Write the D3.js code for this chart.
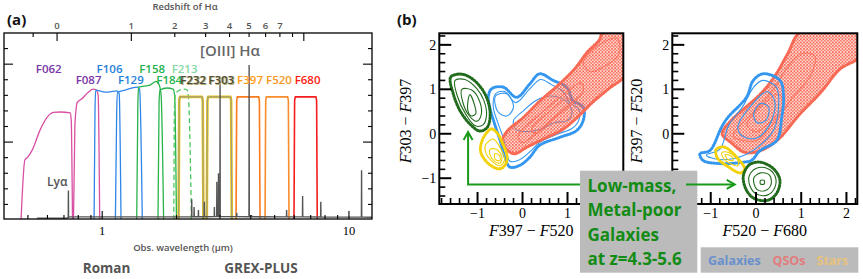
<!DOCTYPE html>
<html>
<head>
<meta charset="utf-8">
<script src="https://cdn.jsdelivr.net/npm/d3@7"></script>
<style>
body { margin: 0; background: #fff; }
svg { display: block; }
</style>
</head>
<body>
<svg id="fig" width="863" height="279"></svg>
<script>
// ---------- panel (a) data ----------
// Roman filter curves [wavelength um, transmission]
const romanNames = ["F062", "F087", "F106", "F129", "F158", "F184", "F213"];
const f062 = [[0.469,0],[0.486,0.385],[0.497,0.40],[0.521,0.45],[0.561,0.58],[0.599,0.66],[0.633,0.69],[0.676,0.693],[0.742,0.687],[0.749,0.64],[0.758,0]];
const f087 = [[0.765,0],[0.775,0.6],[0.785,0.72],[0.79,0.75],[0.83,0.78],[0.878,0.82],[0.92,0.84],[0.946,0.834],[0.963,0.80],[0.977,0]];
const f106 = [[0.927,0],[0.935,0.7],[0.941,0.834],[1.028,0.82],[1.15,0.828],[1.172,0.81],[1.192,0]];
const f129 = [[1.131,0],[1.145,0.7],[1.155,0.82],[1.239,0.834],[1.386,0.853],[1.418,0.84],[1.454,0]];
const f158 = [[1.38,0],[1.395,0.75],[1.405,0.853],[1.564,0.866],[1.654,0.889],[1.702,0.866],[1.733,0.80],[1.774,0]];
const f184 = [[1.683,0],[1.70,0.75],[1.714,0.834],[1.834,0.847],[1.939,0.84],[1.966,0.80],[2.0,0]];
const f213 = [[1.95,0],[1.962,0.7],[1.975,0.80],[2.031,0.828],[2.148,0.84],[2.209,0.834],[2.24,0.77],[2.3,0]];
const romanCurves = [f062, f087, f106, f129, f158, f184, f213];

// GREX-PLUS box filters
const grexNames = ["F232", "F303", "F397", "F520", "F680"];
const grexLo = [2.04, 2.654, 3.487, 4.571, 5.987];
const grexHi = [2.571, 3.351, 4.362, 5.716, 7.44];
const grexTop = 0.79;

// model spectrum of a z=5 galaxy
const contWave = [0.544, 0.72, 0.735, 2.0, 3.0, 12.4];
const contFlux = [0.012, 0.012, 0.02, 0.02, 0.022, 0.018];
const lineWave = [0.7296, 2.306, 2.358, 2.455, 2.595, 2.849, 2.915, 2.960, 3.004, 3.51, 3.94, 4.03, 5.59, 6.49, 7.69, 11.25];
const lineFlux = [0.19, 0.133, 0.083, 0.064, 0.117, 0.083, 0.246, 0.30, 0.873, 0.045, 0.995, 0.032, 0.064, 0.154, 0.117, 0.32];

const haRest = 0.65628;
const zLabels = [0, 1, 2, 3, 4, 5, 6, 7];
const zTicksLong = [0, 1, 9];
const zTicksShort = [-0.2, 2, 3, 4, 5, 6, 7, 8];

// ---------- panel (b) data: contour rings, outer first ----------
const blueL = [
  [[-0.69,1.01],[-0.43,1.05],[-0.13,0.82],[0.16,1.12],[0.38,1.35],[0.68,1.20],[0.98,1.05],[1.12,0.75],[1.35,0.60],[1.35,0.30],[1.20,0.07],[0.83,-0.08],[0.38,-0.26],[0.16,-0.53],[-0.06,-0.71],[-0.28,-0.75],[-0.39,-0.53],[-0.50,-0.15],[-0.62,0.22],[-0.73,0.60],[-0.76,0.82]],
  [[-0.6,0.9],[-0.4,0.95],[-0.15,0.7],[0.15,1.0],[0.4,1.22],[0.65,1.1],[0.9,0.95],[1.05,0.7],[1.25,0.55],[1.25,0.3],[1.1,0.12],[0.8,0.0],[0.4,-0.18],[0.15,-0.42],[-0.1,-0.6],[-0.28,-0.62],[-0.35,-0.45],[-0.42,-0.12],[-0.55,0.25],[-0.65,0.6]],
  [[0.0,0.5],[0.3,0.75],[0.6,0.85],[0.95,0.75],[1.1,0.5],[1.0,0.3],[0.7,0.25],[0.4,0.1],[0.1,0.05],[-0.15,0.1],[-0.2,0.3]],
  [[-0.6,0.85],[-0.35,0.9],[-0.2,0.6],[-0.35,0.4],[-0.55,0.5]]
];
const qsoL = [
  [[-0.45,-0.2],[-0.35,0.05],[0.0,0.35],[0.4,0.75],[0.8,1.1],[1.15,1.45],[1.45,1.85],[1.7,2.1],[1.8,2.3],[2.3,2.3],[2.3,1.35],[1.9,1.0],[1.55,0.7],[1.25,0.4],[0.9,0.1],[0.5,-0.1],[0.1,-0.3],[-0.2,-0.45]],
  [[-0.1,-0.05],[0.4,0.45],[1.0,0.95],[1.3,1.15],[1.35,0.95],[0.9,0.55],[0.4,0.1],[0.0,-0.2]],
  [[0.2,0.1],[0.6,0.5],[1.0,0.8],[1.1,0.7],[0.7,0.35],[0.3,0.0]],
  [[1.35,1.6],[1.7,2.0],[2.1,2.15],[2.15,1.8],[1.8,1.5],[1.5,1.4]]
];
const yellowL = [
  [[-0.91,-0.19],[-0.80,0.02],[-0.69,0.11],[-0.55,0.0],[-0.45,-0.2],[-0.34,-0.53],[-0.40,-0.72],[-0.52,-0.79],[-0.76,-0.67],[-0.93,-0.41]],
  [[-0.82,-0.25],[-0.65,-0.12],[-0.48,-0.35],[-0.40,-0.58],[-0.50,-0.72],[-0.70,-0.60],[-0.82,-0.42]],
  [[-0.72,-0.35],[-0.58,-0.35],[-0.46,-0.52],[-0.50,-0.66],[-0.62,-0.62],[-0.72,-0.48]],
  [[-0.62,-0.45],[-0.52,-0.48],[-0.50,-0.60],[-0.60,-0.58]]
];
const greenL = [
  [[-1.60,1.27],[-1.44,1.34],[-1.24,1.31],[-0.99,1.12],[-0.80,0.82],[-0.72,0.45],[-0.78,0.15],[-0.95,0.06],[-1.17,0.22],[-1.39,0.52],[-1.54,0.90]],
  [[-1.50,1.20],[-1.28,1.22],[-1.02,1.02],[-0.86,0.75],[-0.80,0.42],[-0.88,0.20],[-1.05,0.18],[-1.25,0.42],[-1.45,0.85]],
  [[-1.35,1.0],[-1.12,0.98],[-0.95,0.72],[-0.92,0.42],[-1.02,0.28],[-1.18,0.40],[-1.33,0.72]],
  [[-1.17,0.88],[-1.06,0.62],[-1.04,0.45],[-1.14,0.40],[-1.22,0.55]]
];

const blueR = [
  [[-1.24,-0.45],[-1.02,-0.38],[-0.76,0.15],[-0.62,0.37],[-0.21,0.82],[-0.06,1.2],[0.16,1.35],[0.53,1.2],[0.61,0.82],[0.57,0.37],[0.46,-0.15],[0.09,-0.38],[-0.10,-0.60],[-0.28,-0.64],[-0.8,-0.67],[-1.17,-0.6]],
  [[-1.1,-0.48],[-0.8,-0.35],[-0.6,0.2],[-0.3,0.6],[-0.05,1.05],[0.15,1.2],[0.45,1.05],[0.5,0.6],[0.4,0.1],[0.1,-0.25],[-0.3,-0.5],[-0.8,-0.58]],
  [[-0.4,0.15],[-0.05,0.7],[0.25,0.95],[0.42,0.7],[0.3,0.2],[0.0,-0.1],[-0.3,-0.05]],
  [[-0.05,0.45],[0.1,0.68],[0.28,0.6],[0.22,0.3],[0.02,0.25]]
];
const qsoR = [
  [[-0.75,0.0],[-0.55,0.3],[-0.2,0.62],[0.15,0.95],[0.45,1.35],[0.7,1.8],[1.0,2.3],[2.3,2.3],[2.3,1.75],[1.85,1.45],[1.45,0.95],[0.95,0.42],[0.5,-0.12],[0.1,-0.38],[-0.25,-0.42],[-0.55,-0.2]],
  [[-0.5,-0.05],[-0.1,0.45],[0.35,0.95],[0.7,1.5],[1.0,1.8],[1.3,1.75],[1.2,1.3],[0.8,0.8],[0.4,0.25],[0.0,-0.15]],
  [[-0.2,0.2],[0.2,0.7],[0.5,0.9],[0.6,0.65],[0.3,0.25],[0.0,0.05]]
];
const yellowR = [
  [[-0.88,-0.35],[-0.7,-0.3],[-0.45,-0.5],[-0.25,-0.8],[-0.35,-0.88],[-0.6,-0.75],[-0.85,-0.55]],
  [[-0.75,-0.42],[-0.6,-0.42],[-0.4,-0.6],[-0.4,-0.72],[-0.55,-0.68],[-0.72,-0.55]],
  [[-0.68,-0.47],[-0.55,-0.5],[-0.5,-0.6],[-0.62,-0.58]]
];
const greenR = [
  [[-0.28,-0.95],[-0.15,-0.7],[0.1,-0.64],[0.4,-0.8],[0.53,-1.05],[0.45,-1.35],[0.25,-1.5],[-0.05,-1.45],[-0.22,-1.25]],
  [[-0.15,-0.95],[0.0,-0.78],[0.25,-0.78],[0.42,-0.95],[0.42,-1.2],[0.25,-1.38],[0.0,-1.35],[-0.13,-1.18]],
  [[-0.05,-1.0],[0.1,-0.88],[0.3,-0.93],[0.33,-1.15],[0.2,-1.28],[0.02,-1.25]],
  [[0.1,-1.05],[0.18,-1.05],[0.18,-1.13],[0.1,-1.13]]
];

const arrowTipL = [-1.21, 0.04];
const arrowTipR = [-0.47, -1.14];
const boxLines = ["Low-mass,", "Metal-poor", "Galaxies", "at z=4.3-5.6"];
const legendNames = ["Galaxies", "QSOs", "Stars"];

// ---------- drawing ----------
const svg = d3.select("#fig");
const sans = "'Open Sans', 'Noto Sans', sans-serif";
const serif = "'Liberation Serif', 'DejaVu Serif', serif";
const defs = svg.append("defs");

// ===== panel (a) =====
const x = d3.scaleLog().domain([0.4, 12.4]).range([4, 372]);
const y = d3.scaleLinear().domain([0, 1.2]).range([220, 33]);
const pa = { l: 4, r: 372, t: 33, b: 219 };

defs.append("clipPath").attr("id", "clipA")
  .append("rect").attr("x", pa.l).attr("y", pa.t).attr("width", pa.r - pa.l).attr("height", pa.b - pa.t);

const ga = svg.append("g");
const plotA = ga.append("g").attr("clip-path", "url(#clipA)");

const romanColors = ["#d94fa3", "#d94fa3", "#2f86e8", "#2f86e8", "#2ab34a", "#2ab34a", "#4cc85a"];
const romanLabelColors = ["#7a35a8", "#7a35a8", "#1f82d8", "#1f82d8", "#22b04a", "#22b04a", "#86d9a4"];
const upperRow = ["F062", "F106", "F158", "F213"];

const curve = d3.line().x(d => x(d[0])).y(d => y(d[1])).curve(d3.curveMonotoneX);

romanCurves.forEach((c, i) => {
  plotA.append("path")
    .attr("d", curve(c))
    .attr("fill", "none")
    .attr("stroke", romanColors[i])
    .attr("stroke-width", 1.3)
    .attr("stroke-dasharray", romanNames[i] == "F213" ? "5,3" : null);
});

// GREX box filters
const grexColors = ["#e8c412", "#b8b08a", "#fb7a1c", "#f98c2c", "#f41c1c"];
const boxLine = d3.line().x(d => x(d[0])).y(d => y(d[1])).curve(d3.curveLinear);
grexNames.forEach((n, i) => {
  const lo = grexLo[i], hi = grexHi[i];
  const pts = [[lo, 0], [lo * 1.006, grexTop * 0.97], [lo * 1.012, grexTop], [hi / 1.012, grexTop], [hi / 1.006, grexTop * 0.97], [hi, 0]];
  if (i < 2) {
    plotA.append("path").attr("d", boxLine(pts)).attr("fill", "none")
      .attr("stroke", "#e8c412").attr("stroke-width", 2.6).attr("stroke-linejoin", "round");
    plotA.append("path").attr("d", boxLine(pts)).attr("fill", "none")
      .attr("stroke", "#a09c84").attr("stroke-width", 1.1).attr("stroke-linejoin", "round");
  } else {
    plotA.append("path").attr("d", boxLine(pts)).attr("fill", "none")
      .attr("stroke", grexColors[i]).attr("stroke-width", 1.6).attr("stroke-linejoin", "round");
  }
});

// spectrum: continuum + emission spikes
const contAt = d3.scaleLog().domain(contWave).range(contFlux).clamp(true);
let spec = contWave.map((w, i) => [w, contFlux[i]]);
lineWave.forEach((w, i) => {
  const c = contAt(w);
  spec.push([w / 1.0015, c], [w, lineFlux[i]], [w * 1.0015, c]);
});
spec.sort((a, b) => a[0] - b[0]);
plotA.append("path")
  .attr("d", d3.line().x(d => x(d[0])).y(d => y(d[1]))(spec))
  .attr("fill", "none")
  .attr("stroke", "#555")
  .attr("stroke-width", 1.4);

// frame
ga.append("rect").attr("x", pa.l).attr("y", pa.t).attr("width", pa.r - pa.l).attr("height", pa.b - pa.t)
  .attr("fill", "none").attr("stroke", "#000").attr("stroke-width", 1.3);

// left/right ticks
d3.range(1, 12).forEach(k => {
  const v = k / 10, yy = y(v);
  if (yy < pa.t + 1) return;
  const len = (k % 5 == 0) ? 9 : 4;
  ga.append("line").attr("x1", pa.l).attr("x2", pa.l + len).attr("y1", yy).attr("y2", yy).attr("stroke", "#000").attr("stroke-width", 1.1);
  ga.append("line").attr("x1", pa.r).attr("x2", pa.r - len).attr("y1", yy).attr("y2", yy).attr("stroke", "#000").attr("stroke-width", 1.1);
});

// bottom wavelength ticks
const minorW = [0.5, 0.6, 0.7, 0.8, 0.9, 2, 3, 4, 5, 6, 7, 8, 9];
minorW.forEach(w => {
  ga.append("line").attr("x1", x(w)).attr("x2", x(w)).attr("y1", pa.b).attr("y2", pa.b - 4).attr("stroke", "#000").attr("stroke-width", 1.1);
});
[1, 10].forEach(w => {
  ga.append("line").attr("x1", x(w)).attr("x2", x(w)).attr("y1", pa.b).attr("y2", pa.b - 8).attr("stroke", "#000").attr("stroke-width", 1.1);
  ga.append("text").attr("x", x(w)).attr("y", 235).attr("text-anchor", "middle")
    .attr("font-family", serif).attr("font-size", 12.5).attr("fill", "#000").text(w);
});

// top redshift axis
const zx = z => x(haRest * (1 + z));
zTicksLong.forEach(z => {
  ga.append("line").attr("x1", zx(z)).attr("x2", zx(z)).attr("y1", pa.t).attr("y2", pa.t + 8).attr("stroke", "#000").attr("stroke-width", 1.1);
});
zTicksShort.forEach(z => {
  ga.append("line").attr("x1", zx(z)).attr("x2", zx(z)).attr("y1", pa.t).attr("y2", pa.t + 4).attr("stroke", "#000").attr("stroke-width", 1.1);
});
zLabels.forEach(z => {
  ga.append("text").attr("x", zx(z)).attr("y", 28.5).attr("text-anchor", "middle")
    .attr("font-family", sans).attr("font-weight", 600).attr("font-size", 9.5).attr("fill", "#555").text(z);
});
ga.append("text").attr("x", 185).attr("y", 9.5).attr("text-anchor", "middle")
  .attr("font-family", sans).attr("font-weight", 600).attr("font-size", 9.5).attr("fill", "#555").text("Redshift of Hα");

// filter labels
const allNames = romanNames.concat(grexNames);
const allCenters = romanCurves.map(c => Math.sqrt(c[0][0] * c[c.length - 1][0]))
  .concat(grexLo.map((lo, i) => Math.sqrt(lo * grexHi[i])));
const grexLabelColors = ["#4c4c3a", "#4c4c3a", "#ff9a14", "#f7961e", "#ff1a10"];
const allLabelColors = romanLabelColors.concat(grexLabelColors);
allNames.forEach((n, i) => {
  const lx = x(allCenters[i]) + 2;
  const ly = upperRow.includes(n) ? 72.5 : 84;
  if (n == "F232" || n == "F303") {
    ga.append("text").attr("x", lx + 0.8).attr("y", ly + 0.6).attr("text-anchor", "middle")
      .attr("font-family", sans).attr("font-weight", 700).attr("font-size", 11.5).attr("fill", "#b4ac70").text(n);
  }
  ga.append("text").attr("x", lx).attr("y", ly).attr("text-anchor", "middle")
    .attr("font-family", sans).attr("font-weight", 600).attr("font-size", 11.5).attr("fill", allLabelColors[i]).text(n);
});

ga.append("text").attr("x", 230).attr("y", 56).attr("text-anchor", "middle")
  .attr("font-family", sans).attr("font-weight", 600).attr("font-size", 15).attr("fill", "#666").text("[OIII] Hα");
ga.append("text").attr("x", 67.5).attr("y", 186).attr("text-anchor", "end")
  .attr("font-family", sans).attr("font-weight", 600).attr("font-size", 12).attr("fill", "#555").text("Lyα");

ga.append("text").attr("x", 183).attr("y", 250.5).attr("text-anchor", "middle")
  .attr("font-family", sans).attr("font-weight", 600).attr("font-size", 9.5).attr("fill", "#555").text("Obs. wavelength (μm)");
ga.append("text").attr("x", 106.5).attr("y", 273).attr("text-anchor", "middle")
  .attr("font-family", sans).attr("font-weight", 700).attr("font-size", 13.5).attr("fill", "#555").text("Roman");
ga.append("text").attr("x", 261).attr("y", 273).attr("text-anchor", "middle")
  .attr("font-family", sans).attr("font-weight", 700).attr("font-size", 13.5).attr("fill", "#555").text("GREX-PLUS");
ga.append("text").attr("x", 7).attr("y", 25).attr("font-family", sans).attr("font-weight", 700)
  .attr("font-size", 15).attr("fill", "#111").text("(a)");

// ===== panel (b) =====
const dom = [-1.85, 2.24], domY = [-1.58, 2.26];
const yB = d3.scaleLinear().domain(domY).range([204, 33.3]);
const xL = d3.scaleLinear().domain(dom).range([439.3, 623.3]);
const xR = d3.scaleLinear().domain(dom).range([672.3, 857.3]);

// speckled texture for the dense QSO scatter
const pat = defs.append("pattern").attr("id", "qsoDots").attr("patternUnits", "userSpaceOnUse")
  .attr("width", 3.2).attr("height", 3.2);
pat.append("rect").attr("width", 3.2).attr("height", 3.2).attr("fill", "#fa6a55").attr("opacity", 0.22);
pat.append("circle").attr("cx", 0.8).attr("cy", 0.9).attr("r", 0.95).attr("fill", "#f9624c");
pat.append("circle").attr("cx", 2.4).attr("cy", 2.3).attr("r", 0.8).attr("fill", "#f9624c");

const colBlue = "#3497f0", colQso = "#f86a55", colYellow = "#f3d20c", colGreen = "#226c1e";

function drawPanel(id, xs, layers, xTitle, yTitle, titleX, hideX, hideY) {
  const [x0, x1] = xs.range();
  const [y0, y1] = yB.range();
  defs.append("clipPath").attr("id", id).append("rect")
    .attr("x", x0).attr("y", y1).attr("width", x1 - x0).attr("height", y0 - y1);
  const g = svg.append("g");
  const plot = g.append("g").attr("clip-path", `url(#${id})`);
  const ring = d3.line().x(d => xs(d[0])).y(d => yB(d[1])).curve(d3.curveCatmullRomClosed.alpha(0.5));

  layers.forEach(L => {
    L.rings.forEach((r, j) => {
      if (j == 0) {
        if (L.fill) {
          plot.append("path").attr("d", ring(r)).attr("fill", "url(#qsoDots)").attr("stroke", "none");
        }
        plot.append("path").attr("d", ring(r)).attr("fill", "none")
          .attr("stroke", L.color).attr("stroke-width", 3)
          .attr("stroke-dasharray", "1 2").attr("stroke-linecap", "round");
      }
      plot.append("path").attr("d", ring(r)).attr("fill", "none")
        .attr("stroke", L.color).attr("stroke-width", j == 0 ? 1.4 : 1.1)
        .attr("opacity", L.fill && j > 0 ? 0.8 : 1);
    });
  });

  // frame
  g.append("rect").attr("x", x0).attr("y", y1).attr("width", x1 - x0).attr("height", y0 - y1)
    .attr("fill", "none").attr("stroke", "#000").attr("stroke-width", 2);

  d3.range(-9, 12).map(k => k / 5).forEach(v => {
    const major = Math.abs(v - Math.round(v)) < 1e-6;
    const len = major ? 12 : 6;
    const lab = v < 0 ? "\u2212" + (-v) : String(v);
    if (v > dom[0] && v < dom[1]) {
      g.append("line").attr("x1", xs(v)).attr("x2", xs(v)).attr("y1", y0).attr("y2", y0 - len)
        .attr("stroke", "#000").attr("stroke-width", major ? 2 : 1.6);
      if (major && !hideX.includes(v)) {
        g.append("text").attr("x", xs(v)).attr("y", 218).attr("text-anchor", "middle")
          .attr("font-family", serif).attr("font-size", 14).attr("fill", "#000").text(lab);
      }
    }
    if (v > domY[0] && v < domY[1]) {
      g.append("line").attr("x1", x0).attr("x2", x0 + len).attr("y1", yB(v)).attr("y2", yB(v))
        .attr("stroke", "#000").attr("stroke-width", major ? 2 : 1.6);
      if (major && !hideY.includes(v)) {
        g.append("text").attr("x", x0 - 3).attr("y", yB(v) + 5).attr("text-anchor", "end")
          .attr("font-family", serif).attr("font-size", 14).attr("fill", "#000").text(lab);
      }
    }
  });

  const mathLabel = (t, parts) => {
    parts.forEach(p => t.append("tspan").attr("font-style", p[1] ? "italic" : "normal").text(p[0]));
  };
  const xt = g.append("text").attr("x", (x0 + x1) / 2).attr("y", 236).attr("text-anchor", "middle")
    .attr("font-family", serif).attr("font-size", 16).attr("fill", "#000");
  mathLabel(xt, [["F", 1], [xTitle[0] + " \u2212 ", 0], ["F", 1], [xTitle[1], 0]]);
  const yt = g.append("text").attr("transform", `translate(${titleX},121) rotate(-90)`).attr("text-anchor", "middle")
    .attr("font-family", serif).attr("font-size", 16).attr("fill", "#000");
  mathLabel(yt, [["F", 1], [yTitle[0] + " \u2212 ", 0], ["F", 1], [yTitle[1], 0]]);
  return g;
}

// labels hidden by the annotation box are not drawn
drawPanel("clipL", xL, [
  { rings: blueL, color: colBlue },
  { rings: qsoL, color: colQso, fill: true },
  { rings: yellowL, color: colYellow },
  { rings: greenL, color: colGreen }
], ["397", "520"], ["303", "397"], 410.5, [2], []);

drawPanel("clipR", xR, [
  { rings: qsoR, color: colQso, fill: true },
  { rings: blueR, color: colBlue },
  { rings: yellowR, color: colYellow },
  { rings: greenR, color: colGreen }
], ["520", "680"], ["397", "520"], 641.5, [], [-1]);

svg.append("text").attr("x", 397).attr("y", 25).attr("font-family", sans).attr("font-weight", 700)
  .attr("font-size", 15).attr("fill", "#111").text("(b)");

// annotation box and arrows
const arrowCol = "#1a9a1a";
const boxY = yB(arrowTipR[1]);
svg.append("path")
  .attr("d", `M583,${boxY}H${xL(arrowTipL[0])}V${yB(arrowTipL[1]) + 1}`)
  .attr("fill", "none").attr("stroke", arrowCol).attr("stroke-width", 2);
svg.append("path")
  .attr("d", `M${xL(arrowTipL[0]) - 4.5},${yB(arrowTipL[1]) + 8}L${xL(arrowTipL[0])},${yB(arrowTipL[1])}L${xL(arrowTipL[0]) + 4.5},${yB(arrowTipL[1]) + 8}`)
  .attr("fill", "none").attr("stroke", arrowCol).attr("stroke-width", 2);

svg.append("rect").attr("x", 580).attr("y", 170.7).attr("width", 117.3).attr("height", 102)
  .attr("fill", "#bbbbbb");
boxLines.forEach((t, i) => {
  svg.append("text").attr("x", 587.5).attr("y", 191.5 + i * 24.5)
    .attr("font-family", sans).attr("font-weight", 700).attr("font-size", 17)
    .attr("fill", "#128c14").text(t);
});
svg.append("path")
  .attr("d", `M686,${boxY}H${xR(arrowTipR[0])}`)
  .attr("fill", "none").attr("stroke", arrowCol).attr("stroke-width", 2);
svg.append("path")
  .attr("d", `M${xR(arrowTipR[0]) - 8},${boxY - 4.5}L${xR(arrowTipR[0])},${boxY}L${xR(arrowTipR[0]) - 8},${boxY + 4.5}`)
  .attr("fill", "none").attr("stroke", arrowCol).attr("stroke-width", 2);

// legend box
svg.append("rect").attr("x", 700.7).attr("y", 247.3).attr("width", 157.6).attr("height", 25.4).attr("fill", "#bbbbbb");
const legendColors = ["#6790cc", "#e27c7c", "#e8c27a"];
const legendX = [708, 772.5, 816.5];
legendNames.forEach((n, i) => {
  svg.append("text").attr("x", legendX[i]).attr("y", 264.5)
    .attr("font-family", sans).attr("font-weight", 700).attr("font-size", 12.5)
    .attr("fill", legendColors[i]).text(n);
});
</script>
</body>
</html>
